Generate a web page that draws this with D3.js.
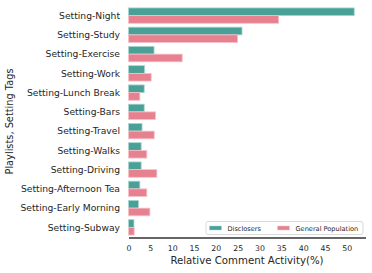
<!DOCTYPE html>
<html>
<head>
<meta charset="utf-8">
<script src="https://cdn.jsdelivr.net/npm/d3@7"></script>
<style>
  body { margin: 0; background: #fff; }
  text { font-family: "DejaVu Sans", sans-serif; fill: #262626; }
</style>
</head>
<body>
<div id="chart"></div>
<script>
const categories = [
    "Setting-Night", "Setting-Study", "Setting-Exercise", "Setting-Work",
    "Setting-Lunch Break", "Setting-Bars", "Setting-Travel", "Setting-Walks",
    "Setting-Driving", "Setting-Afternoon Tea", "Setting-Early Morning", "Setting-Subway"
];
const seriesNames = ["Disclosers", "General Population"];
const disclosers = [51.7, 26.0, 5.85, 3.7, 3.6, 3.6, 3.1, 2.9, 2.9, 2.6, 2.3, 1.25];
const generalPop = [34.4, 25.0, 12.3, 5.2, 2.6, 6.2, 5.9, 4.2, 6.5, 4.2, 4.9, 1.3];
const xTicks = [0, 5, 10, 15, 20, 25, 30, 35, 40, 45, 50];
const colors = ["#48a096", "#e8818f"];
const edges = ["#a9d6d1", "#f5c3cb"];

const width = 372, height = 273;
const margin = {left: 128.5, right: 6.5, top: 6, bottom: 36};

const svg = d3.select("#chart").append("svg")
    .attr("width", width)
    .attr("height", height);

const xMax = d3.max(disclosers.concat(generalPop)) * 1.05;
const x = d3.scaleLinear()
    .domain([0, xMax])
    .range([margin.left, width - margin.right]);

const y = d3.scaleBand()
    .domain(categories)
    .range([margin.top, height - margin.bottom]);

const hue = d3.scaleBand()
    .domain(seriesNames)
    .range([y.bandwidth() * 0.1, y.bandwidth() * 0.9]);

const rows = categories.map((c, i) => ({cat: c, vals: [disclosers[i], generalPop[i]]}));

const groups = svg.append("g").selectAll("g")
    .data(rows)
    .join("g")
    .attr("transform", d => `translate(0,${y(d.cat)})`);

groups.selectAll("rect")
    .data(d => d.vals.map((v, k) => ({v, k})))
    .join("rect")
    .attr("x", x(0))
    .attr("y", d => hue(seriesNames[d.k]))
    .attr("width", d => x(d.v) - x(0))
    .attr("height", hue.bandwidth())
    .attr("fill", d => colors[d.k])
    .attr("stroke", d => edges[d.k])
    .attr("stroke-width", 0.8);

// y labels
svg.append("g").selectAll("text")
    .data(categories)
    .join("text")
    .attr("x", 120)
    .attr("y", d => y(d) + y.bandwidth() / 2)
    .attr("dy", "0.35em")
    .attr("text-anchor", "end")
    .attr("font-size", 9.2)
    .text(d => d);

// x axis
const xAxis = svg.append("g")
    .attr("transform", `translate(0,${height - margin.bottom + 0.5})`)
    .call(d3.axisBottom(x).tickValues(xTicks).tickSize(0).tickPadding(8));
xAxis.select(".domain").attr("stroke", "#333").attr("stroke-width", 1.3);
xAxis.selectAll("text")
    .attr("font-size", 7.8)
    .attr("font-family", "DejaVu Sans, sans-serif")
    .attr("fill", "#262626");

svg.append("text")
    .attr("x", (x(0) + x(xMax)) / 2)
    .attr("y", 263.5)
    .attr("text-anchor", "middle")
    .attr("font-size", 10.2)
    .text("Relative Comment Activity(%)");

svg.append("text")
    .attr("transform", `translate(13,${(margin.top + height - margin.bottom) / 2}) rotate(-90)`)
    .attr("text-anchor", "middle")
    .attr("font-size", 9.8)
    .text("Playlists, Setting Tags");

// legend
const lg = svg.append("g").attr("transform", "translate(206,221.5)");
lg.append("rect")
    .attr("width", 157)
    .attr("height", 13)
    .attr("rx", 2)
    .attr("fill", "#fff")
    .attr("fill-opacity", 0.85)
    .attr("stroke", "#d0d0d0")
    .attr("stroke-width", 0.8);
const legendX = [3.5, 71.5];
seriesNames.forEach((s, k) => {
    lg.append("rect")
        .attr("x", legendX[k])
        .attr("y", 4.5)
        .attr("width", 12)
        .attr("height", 4)
        .attr("fill", colors[k])
        .attr("stroke", edges[k])
        .attr("stroke-width", 0.5);
    lg.append("text")
        .attr("x", legendX[k] + 18)
        .attr("y", 6.7)
        .attr("dy", "0.35em")
        .attr("font-size", 6.6)
        .text(s);
});
</script>
</body>
</html>
